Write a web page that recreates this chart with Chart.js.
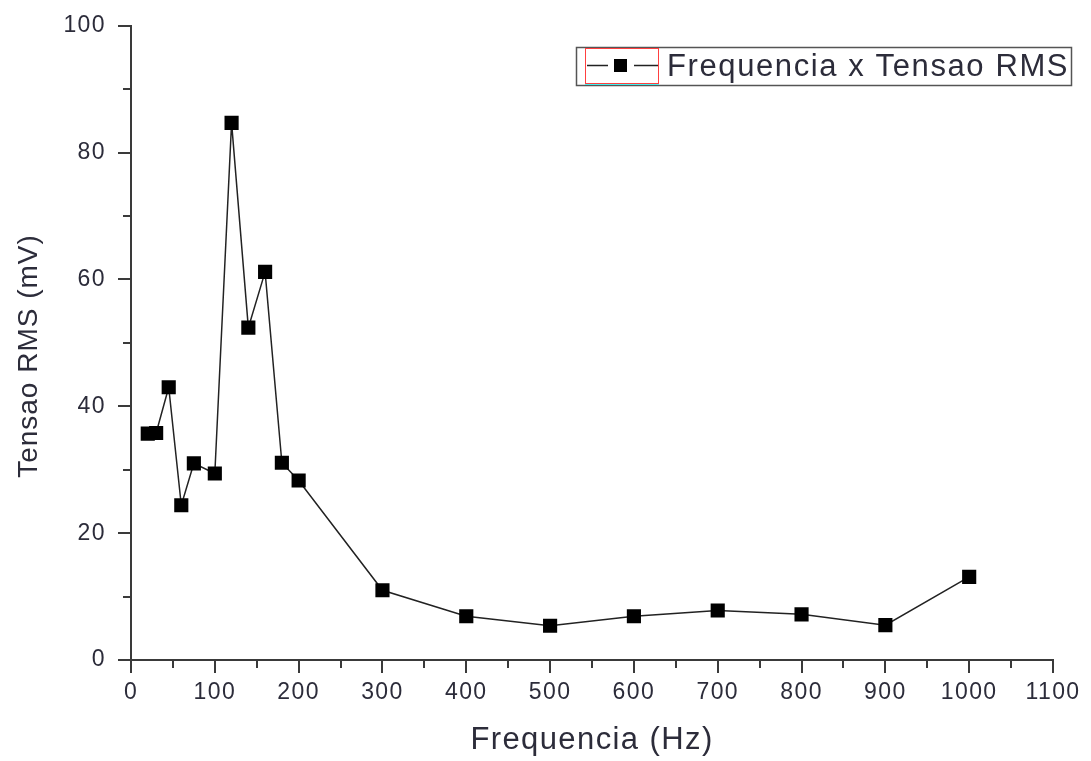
<!DOCTYPE html>
<html>
<head>
<meta charset="utf-8">
<script src="https://cdn.jsdelivr.net/npm/chart.js@4/dist/chart.umd.min.js"></script>
<style>
  html, body { margin: 0; padding: 0; background: #fff; }
  canvas { display: block; }
</style>
</head>
<body>
<canvas id="myChart" width="1091" height="761"></canvas>
<script>
// frequencia (Hz) e tensao RMS (mV)
const frequencia = [20, 30, 45, 60, 75, 100, 120, 140, 160, 180, 200, 300, 400, 500, 600, 700, 800, 900, 1000];
const tensao = [35.7, 35.8, 43.0, 24.4, 31.0, 29.4, 84.7, 52.4, 61.2, 31.1, 28.3, 11.0, 6.9, 5.4, 6.9, 7.8, 7.2, 5.5, 13.1];
const xTicks = [0, 100, 200, 300, 400, 500, 600, 700, 800, 900, 1000, 1100];
const yTicks = [0, 20, 40, 60, 80, 100];
const serieNome = 'Frequencia x Tensao RMS';

const fonte = "'Liberation Sans', Arial, sans-serif";
const corTexto = '#2c2c3a';
const corEixo = '#3a3a3a';

const pontos = frequencia.map((f, i) => ({ x: f, y: tensao[i] }));

// espacamento de letras parecido com o Origin
const espacamento = {
    id: 'espacamento',
    beforeLayout(chart) { chart.ctx.letterSpacing = '1.4px'; },
    beforeDraw(chart) { chart.ctx.letterSpacing = '1.4px'; }
};

// ticks maiores e menores desenhados na mao (Chart.js nao tem minor ticks)
const marcas = {
    id: 'marcas',
    afterDraw(chart) {
        const ctx = chart.ctx;
        const xs = chart.scales.x;
        const ys = chart.scales.y;
        const area = chart.chartArea;
        ctx.save();
        ctx.strokeStyle = corEixo;
        ctx.lineWidth = 2;
        xs.ticks.forEach(t => {
            const px = Math.round(xs.getPixelForValue(t.value));
            const len = xTicks.includes(t.value) ? 13 : 8;
            ctx.beginPath();
            ctx.moveTo(px, area.bottom);
            ctx.lineTo(px, area.bottom + len);
            ctx.stroke();
        });
        ys.ticks.forEach(t => {
            const py = Math.round(ys.getPixelForValue(t.value));
            const len = yTicks.includes(t.value) ? 13 : 8;
            ctx.beginPath();
            ctx.moveTo(area.left, py);
            ctx.lineTo(area.left - len, py);
            ctx.stroke();
        });

        // titulo do eixo y
        ctx.translate(29, 356);
        ctx.rotate(-Math.PI / 2);
        ctx.font = '28px ' + fonte;
        ctx.fillStyle = corTexto;
        ctx.textAlign = 'center';
        ctx.textBaseline = 'middle';
        ctx.letterSpacing = '1px';
        ctx.fillText('Tensao RMS (mV)', 0, 0);
        ctx.restore();
    }
};

// legenda no estilo do Origin
const legenda = {
    id: 'legenda',
    afterDraw(chart) {
        const ctx = chart.ctx;
        ctx.save();
        ctx.strokeStyle = '#555';
        ctx.lineWidth = 1.5;
        ctx.strokeRect(576.5, 47.5, 495, 38);

        ctx.strokeStyle = '#ff4040';
        ctx.lineWidth = 1;
        ctx.strokeRect(585.5, 48.5, 73, 35);
        ctx.strokeStyle = '#40f0f0';
        ctx.beginPath();
        ctx.moveTo(585, 84.5);
        ctx.lineTo(659, 84.5);
        ctx.stroke();

        ctx.strokeStyle = '#222';
        ctx.lineWidth = 1.5;
        ctx.beginPath();
        ctx.moveTo(587, 65.5);
        ctx.lineTo(608, 65.5);
        ctx.moveTo(634, 65.5);
        ctx.lineTo(658, 65.5);
        ctx.stroke();
        ctx.fillStyle = '#000';
        ctx.fillRect(614, 59, 13, 13);

        ctx.font = '31px ' + fonte;
        ctx.fillStyle = corTexto;
        ctx.textAlign = 'left';
        ctx.textBaseline = 'middle';
        ctx.letterSpacing = '1.6px';
        ctx.fillText(serieNome, 667, 67);
        ctx.restore();
    }
};

new Chart(document.getElementById('myChart'), {
    type: 'line',
    data: {
        datasets: [{
            label: serieNome,
            data: pontos,
            borderColor: '#222',
            borderWidth: 1.5,
            pointStyle: 'rect',
            pointRadius: 10,
            pointBackgroundColor: '#000',
            pointBorderColor: '#000',
            pointBorderWidth: 0,
            tension: 0
        }]
    },
    options: {
        responsive: false,
        animation: false,
        devicePixelRatio: 1,
        layout: { padding: { left: 0, right: 38, top: 25, bottom: 0 } },
        plugins: {
            legend: { display: false },
            tooltip: { enabled: false }
        },
        scales: {
            x: {
                type: 'linear',
                min: 0,
                max: 1100,
                afterFit: scale => { scale.height = 101; },
                border: { display: true, color: corEixo, width: 2 },
                grid: { drawOnChartArea: false, color: 'rgba(0,0,0,0)', tickLength: 13 },
                ticks: {
                    stepSize: 50,
                    autoSkip: false,
                    maxRotation: 0,
                    padding: 6,
                    color: corTexto,
                    font: { family: fonte, size: 23 },
                    callback: v => xTicks.includes(v) ? String(v) : ''
                },
                title: {
                    display: true,
                    text: 'Frequencia (Hz)',
                    color: corTexto,
                    font: { family: fonte, size: 31 },
                    padding: { top: 0, bottom: 2 }
                }
            },
            y: {
                min: 0,
                max: 100,
                afterFit: scale => { scale.width = 131; },
                border: { display: true, color: corEixo, width: 2 },
                grid: { drawOnChartArea: false, color: 'rgba(0,0,0,0)', tickLength: 13 },
                ticks: {
                    stepSize: 10,
                    autoSkip: false,
                    padding: 12,
                    color: corTexto,
                    font: { family: fonte, size: 23 },
                    callback: v => yTicks.includes(v) ? String(v) : ''
                }
            }
        }
    },
    plugins: [espacamento, marcas, legenda]
});
</script>
</body>
</html>
